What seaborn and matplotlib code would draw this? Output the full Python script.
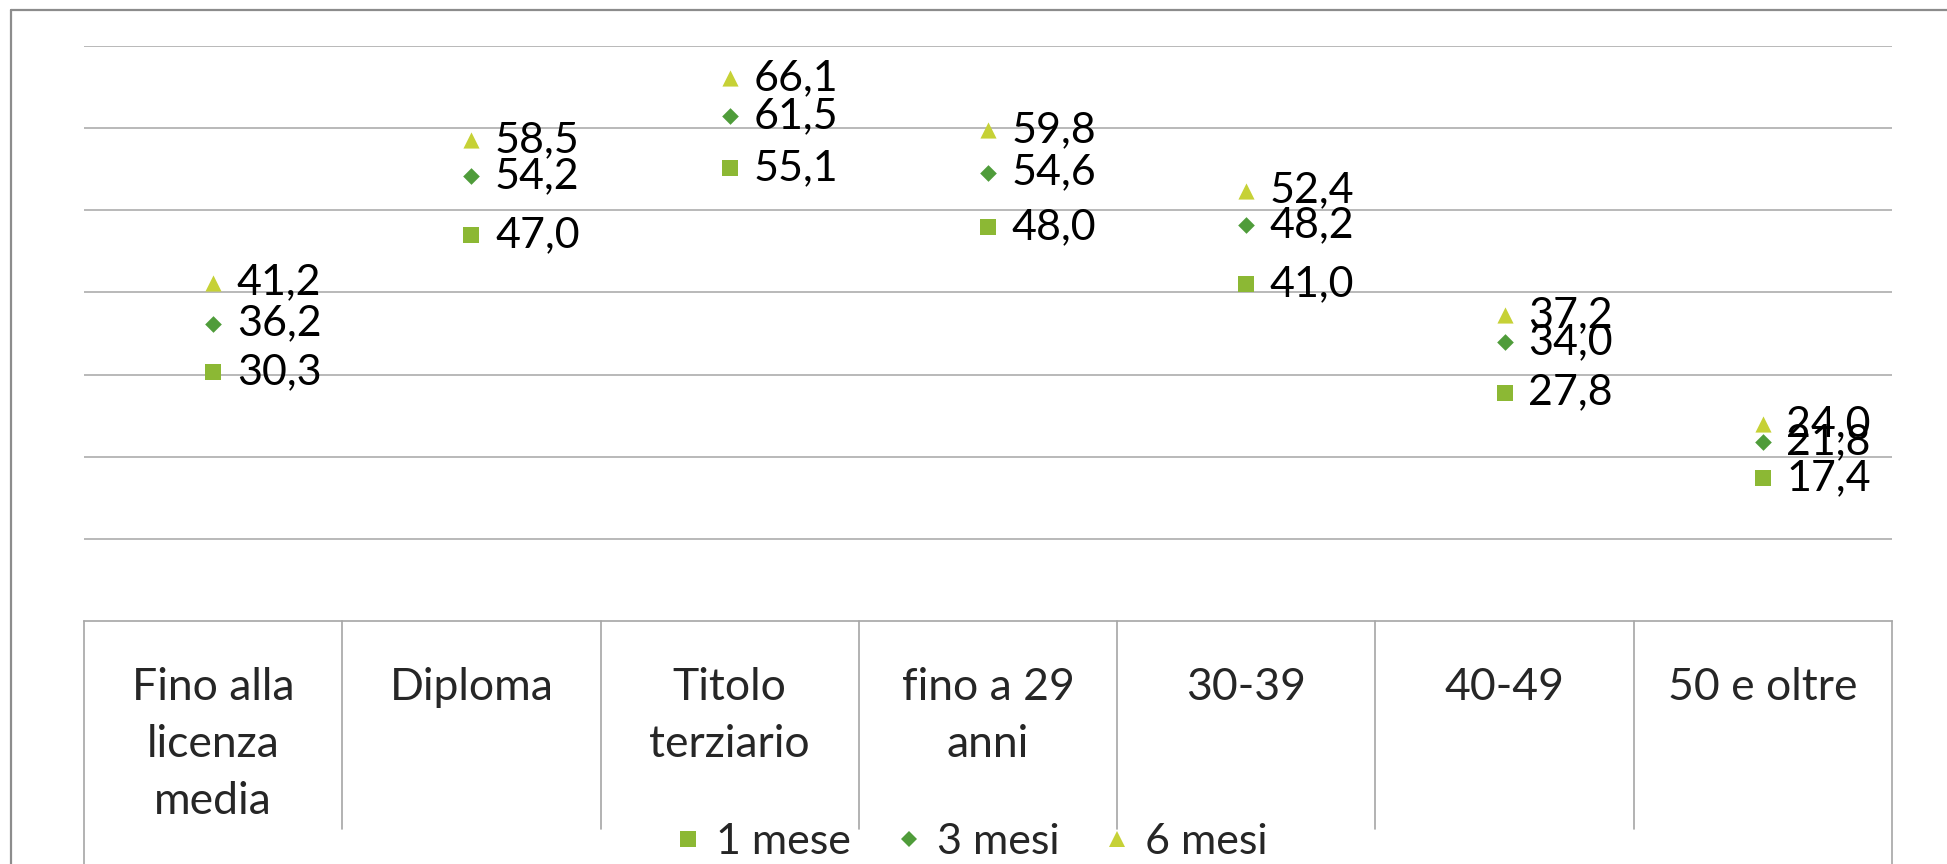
import matplotlib
matplotlib.use("Agg")
import matplotlib.pyplot as plt
import matplotlib.lines as mlines
import matplotlib.transforms as mtrans
import seaborn as sns
import pandas as pd

categories = ["Fino alla\nlicenza\nmedia", "Diploma", "Titolo\nterziario",
              "fino a 29\nanni", "30-39", "40-49", "50 e oltre"]
series_names = ["1 mese", "3 mesi", "6 mesi"]
v_1mese = [30.3, 47.0, 55.1, 48.0, 41.0, 27.8, 17.4]
v_3mesi = [36.2, 54.2, 61.5, 54.6, 48.2, 34.0, 21.8]
v_6mesi = [41.2, 58.5, 66.1, 59.8, 52.4, 37.2, 24.0]

colors = {"1 mese": "#8CB834", "3 mesi": "#4F9C3A", "6 mesi": "#C6D136"}
markers = {"1 mese": "s", "3 mesi": "D", "6 mesi": "^"}
sizes = {"1 mese": 135, "3 mesi": 72, "6 mesi": 135}

rows = []
for name, vals in zip(series_names, [v_1mese, v_3mesi, v_6mesi]):
    for i, (c, v) in enumerate(zip(categories, vals)):
        rows.append({"cat": c, "pos": i, "val": v, "serie": name})
df = pd.DataFrame(rows)

sns.set_theme(style="white")
plt.rcParams["font.family"] = ["Lato", "DejaVu Sans"]

W, H = 1947, 864
fig = plt.figure(figsize=(W / 100, H / 100), dpi=100)
ax = fig.add_axes([84 / W, 1 - 621 / H, (1892 - 84) / W, (621 - 46) / H])

for name in series_names:
    sub = df[df["serie"] == name]
    sns.scatterplot(data=sub, x="pos", y="val", marker=markers[name],
                    color=colors[name], s=sizes[name], linewidth=0,
                    ax=ax, legend=False, clip_on=False, zorder=3)
    for _, r in sub.iterrows():
        ax.annotate(f"{r['val']:.1f}".replace(".", ","), (r["pos"], r["val"]),
                    xytext=(17, 0), textcoords="offset points",
                    ha="left", va="center", fontsize=31, color="black",
                    zorder=4)

ax.set_xlim(-0.5, len(categories) - 0.5)
ax.set_ylim(0, 70)
ax.set_yticks([10, 20, 30, 40, 50, 60, 70])
ax.set_yticklabels([])
ax.tick_params(axis="y", length=0)
ax.grid(axis="y", color="#A6A6A6", linewidth=1.1)
ax.grid(axis="x", visible=False)
for s in ["top", "right", "left"]:
    ax.spines[s].set_visible(False)
ax.spines["bottom"].set_color("#A6A6A6")
ax.spines["bottom"].set_linewidth(1.2)

ax.set_xticks(range(len(categories)))
ax.set_xticklabels(categories, fontsize=32, linespacing=1.49, va="top")
ax.tick_params(axis="x", length=0, pad=33)
ax.set_xlabel("")
ax.set_ylabel("")

# category separators
trans = mtrans.blended_transform_factory(ax.transData, ax.transAxes)
n = len(categories)
for k in range(n + 1):
    x = k - 0.5
    bottom = -0.45 if k in (0, n) else -0.362
    ax.add_line(mlines.Line2D([x, x], [0, bottom], transform=trans,
                              color="#A6A6A6", linewidth=1.2, clip_on=False))

# outer frame
fig.add_artist(mlines.Line2D([11 / W, 11 / W], [0, 1 - 10 / H], color="#8C8C8C",
                             linewidth=1.6, transform=fig.transFigure))
fig.add_artist(mlines.Line2D([11 / W, 1], [1 - 10 / H, 1 - 10 / H], color="#8C8C8C",
                             linewidth=1.6, transform=fig.transFigure))

handles = [mlines.Line2D([], [], linestyle="none", marker=markers[nm],
                         color=colors[nm], markersize={"1 mese": 11, "3 mesi": 8.5, "6 mesi": 11.5}[nm],
                         markeredgewidth=0, label=nm) for nm in series_names]
fig.legend(handles=handles, loc="center", bbox_to_anchor=(967 / W, 1 - 842 / H),
           ncol=3, frameon=False, fontsize=31, handletextpad=0.15,
           columnspacing=0.85, handlelength=1.0)

fig.savefig("out.png", dpi=100, facecolor="white")
